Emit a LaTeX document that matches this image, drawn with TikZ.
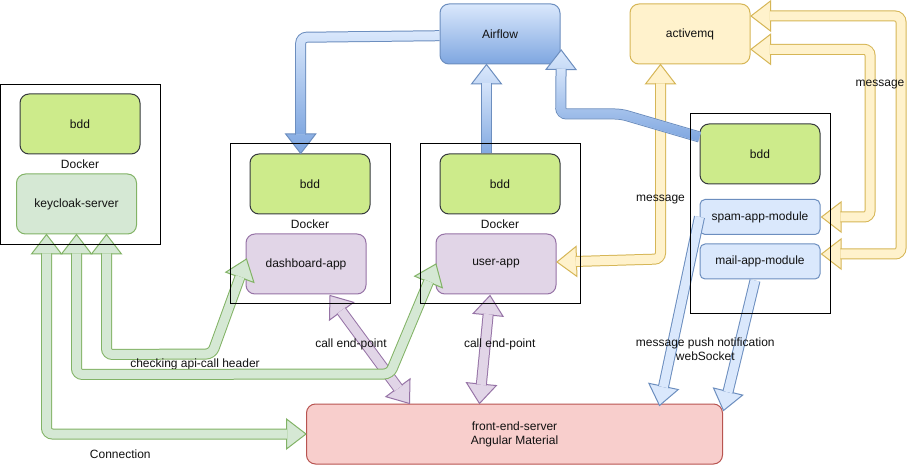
\documentclass[tikz,border=0pt]{standalone}
\usepackage{fontspec}
\setmainfont{Liberation Sans}
\usetikzlibrary{calc,fadings}

\definecolor{gfill}{HTML}{D5E8D4}
\definecolor{gline}{HTML}{82B366}
\definecolor{pfill}{HTML}{E1D5E7}
\definecolor{pline}{HTML}{9673A6}
\definecolor{yfill}{HTML}{FFF2CC}
\definecolor{yline}{HTML}{D6B656}
\definecolor{bfill}{HTML}{DAE8FC}
\definecolor{bline}{HTML}{6C8EBF}
\definecolor{bdark}{HTML}{7EA6E0}
\definecolor{lfill}{HTML}{CDEB8B}
\definecolor{lline}{HTML}{36393D}
\definecolor{rfill}{HTML}{F8CECC}
\definecolor{rline}{HTML}{B85450}
\definecolor{txt}{HTML}{111111}

% fat arrow head: #1 base name, #2 tip, #3 point the arrow comes from, #4 style
\newcommand{\fhead}[4]{%
  \coordinate (#1) at ($(#2)!19.5pt!(#3)$);
  \path[#4] (#2) -- ($(#1)!15pt!90:(#2)$) -- ($(#1)!15pt!-90:(#2)$) -- cycle;
  \coordinate (#1s) at ($(#1)!0.7pt!(#2)$);
}
% gradient fat shaft
\newcommand{\gshaft}[1]{%
  \draw[line width=11pt, draw=bline, rounded corners=6pt] #1;
  \draw[line width=9pt, draw=bfill, rounded corners=6pt] #1;
  \draw[line width=9pt, draw=bdark, rounded corners=6pt, path fading=north] #1;
}

\tikzset{
  lbl/.style={font=\fontsize{12}{14}\selectfont, text=txt, inner sep=0pt, align=center},
  nbox/.style={rectangle, rounded corners=9pt, line width=1pt, minimum width=120pt,
    minimum height=60pt, inner sep=0pt, font=\fontsize{12}{14}\selectfont, text=txt, align=center},
  smallbox/.style={nbox, rounded corners=5pt, minimum height=35pt},
  dockbox/.style={draw=black, line width=1pt, minimum width=160pt, minimum height=160pt, inner sep=0pt},
  gshaftst/.style={draw=gline, double=gfill, double distance=9pt, line width=1pt, rounded corners=6pt},
  ghead/.style={fill=gfill, draw=gline, line width=1pt, line join=miter},
  pshaftst/.style={draw=pline, double=pfill, double distance=9pt, line width=1pt, rounded corners=6pt},
  phead/.style={fill=pfill, draw=pline, line width=1pt, line join=miter},
  yshaftst/.style={draw=yline, double=yfill, double distance=9pt, line width=1pt, rounded corners=6pt},
  yhead/.style={fill=yfill, draw=yline, line width=1pt, line join=miter},
  lshaftst/.style={draw=bline, double=bfill, double distance=9pt, line width=1pt},
  lhead/.style={fill=bfill, draw=bline, line width=1pt, line join=miter},
}

\begin{document}
\begin{tikzpicture}[x=1pt,y=-1pt]
\fill[white] (0,0) rectangle (911,465);
\useasboundingbox (0,0) rectangle (911,465);

% ---------- boxes ----------
\node[nbox, fill=lfill, draw=lline] (bdd1) at (80,124) {bdd};
\node[nbox, fill=gfill, draw=gline] (kc) at (76.5,204) {keycloak-server};
\node[nbox, fill=lfill, draw=lline] (bdd2) at (310,184) {bdd};
\node[nbox, fill=pfill, draw=pline] (dash) at (306,264) {dashboard-app};
\node[nbox, fill=lfill, draw=lline] (bdd3) at (500,184) {bdd};
\node[nbox, fill=pfill, draw=pline] (user) at (496,264) {user-app};
\node[nbox, fill=lfill, draw=lline] (bdd4) at (760,154) {bdd};
\node[smallbox, fill=bfill, draw=bline] (spam) at (760,217) {spam-app-module};
\node[smallbox, fill=bfill, draw=bline] (mail) at (760,261.5) {mail-app-module};
\node[nbox, draw=bline, top color=bfill, bottom color=bdark] (airflow) at (500,34) {Airflow};
\node[nbox, fill=yfill, draw=yline] (amq) at (690,34) {activemq};
\node[nbox, fill=rfill, draw=rline, minimum width=416pt] (fes) at (514.5,434) {front-end-server\\Angular Material};

% ---------- purple: call end-point ----------
\coordinate (p1a) at ($(dash.south)+(24,1)$);
\coordinate (p1b) at ($(fes.north west)+(103.5,0)$);
\fhead{p1ha}{p1a}{p1b}{phead}
\fhead{p1hb}{p1b}{p1a}{phead}
\draw[pshaftst] (p1has) -- (p1hbs);

\coordinate (p2a) at ($(user.south)+(-6,1)$);
\coordinate (p2b) at ($(fes.north west)+(173.5,0)$);
\fhead{p2ha}{p2a}{p2b}{phead}
\fhead{p2hb}{p2b}{p2a}{phead}
\draw[pshaftst] (p2has) -- (p2hbs);

% ---------- green ----------
\coordinate (k1) at ($(kc.south)+(-30,0)$);
\coordinate (k2) at (kc.south);
\coordinate (k3) at ($(kc.south)+(30,0)$);

% Connection
\coordinate (g1c) at (k1 |- fes.west);
\fhead{g1ha}{k1}{g1c}{ghead}
\fhead{g1hb}{fes.west}{g1c}{ghead}
\draw[gshaftst] (g1has) -- (g1c) -- (g1hbs);

% to dashboard-app
\coordinate (g2c1) at ($(k3)+(0,120)$);
\coordinate (g2c2) at (212,354);
\coordinate (dtip) at ($(dash.west)+(1,-5)$);
\fhead{g2ha}{k3}{g2c1}{ghead}
\fhead{g2hb}{dtip}{g2c2}{ghead}
\draw[gshaftst] (g2has) -- (g2c1) -- (g2c2) -- (g2hbs);
\node[lbl] (lchk) at (195,364.5) {checking api-call header};

% to user-app
\coordinate (g3c1) at ($(k2)+(0,140)$);
\coordinate (g3c2) at (390,374);
\coordinate (utip) at ($(user.west)+(0.5,0)$);
\fhead{g3ha}{k2}{g3c1}{ghead}
\fhead{g3hb}{utip}{g3c2}{ghead}
\draw[gshaftst] (g3has) -- (g3c1) -- (g3c2) -- (g3hbs);

% ---------- yellow: activemq ----------
\coordinate (y1a) at ($(amq.south)+(-29.5,0)$);
\coordinate (y1c) at (660.5,259);
\coordinate (y1b) at ($(user.east)+(0.5,-2)$);
\fhead{y1ha}{y1a}{y1c}{yhead}
\fhead{y1hb}{y1b}{y1c}{yhead}
\draw[yshaftst] (y1has) -- (y1c) -- (y1hbs);

\coordinate (y2a) at ($(amq.east)+(0.5,15.3)$);
\coordinate (y2c1) at (870,49.3);
\coordinate (y2c2) at (870,217);
\coordinate (y2b) at ($(spam.east)+(1,0)$);
\fhead{y2ha}{y2a}{y2c1}{yhead}
\fhead{y2hb}{y2b}{y2c2}{yhead}
\draw[yshaftst] (y2has) -- (y2c1) -- (y2c2) -- (y2hbs);

\coordinate (y3a) at ($(amq.east)+(0.5,-18)$);
\coordinate (y3c1) at (901,16);
\coordinate (y3c2) at (901,254);
\coordinate (y3b) at ($(mail.east)+(1,-7.5)$);
\fhead{y3ha}{y3a}{y3c1}{yhead}
\fhead{y3hb}{y3b}{y3c2}{yhead}
\draw[yshaftst] (y3has) -- (y3c1) -- (y3c2) -- (y3hbs);

% ---------- light blue: push notification ----------
\coordinate (b1s) at (spam.west);
\coordinate (b1t) at ($(fes.north west)+(353.5,2)$);
\fhead{b1h}{b1t}{b1s}{lhead}
\draw[lshaftst] (b1s) -- (b1hs);

\coordinate (b2s) at ($(mail.south)+(-5,1)$);
\coordinate (b2t) at ($(fes.north east)+(0.5,7)$);
\fhead{b2h}{b2t}{b2s}{lhead}
\draw[lshaftst] (b2s) -- (b2hs);

% ---------- gradient blue: Airflow ----------
\coordinate (ga0) at ($(airflow.west)+(0,1.7)$);
\coordinate (gac) at (300.7,37.3);
\coordinate (gat) at ($(bdd2.north)+(-9.3,0)$);
\fhead{gah}{gat}{gac}{draw=bline, line width=1pt, line join=miter, top color=bdark!84!bfill, bottom color=bdark}
\gshaft{(ga0) -- (gac) -- (gahs)}

\coordinate (gb0) at ($(bdd3.north)+(-13.5,0)$);
\coordinate (gbt) at ($(airflow.south)+(-13.5,0)$);
\fhead{gbh}{gbt}{gb0}{draw=bline, line width=1pt, line join=miter, top color=bfill, bottom color=bdark!22!bfill}
\gshaft{(gb0) -- (gbhs)}

\coordinate (gc0) at ($(bdd4.west)+(0,-17)$);
\coordinate (gcc1) at (621,114);
\coordinate (gcc2) at (560.7,114);
\coordinate (gct) at ($(airflow.east)+(0.7,16)$);
\fhead{gch}{gct}{gcc2}{draw=bline, line width=1pt, line join=miter, top color=bfill, bottom color=bdark!21!bfill}
\gshaft{(gc0) -- (gcc1) -- (gcc2) -- (gchs)}

% ---------- Docker containers ----------
\node[dockbox] (dock1) at (80.5,164.5) {};
\node[dockbox] (dock2) at (310,224) {};
\node[dockbox] (dock3) at (500,224) {};
\node[dockbox, minimum width=140pt, minimum height=200pt] (dock4) at (760,214) {};
\node[lbl] (dl1) at (80,164) {Docker};
\node[lbl] (dl2) at (310,224) {Docker};
\node[lbl] (dl3) at (500,224) {Docker};

% ---------- labels ----------
\node[lbl] (lconn) at (120.3,454.3) {Connection};
\node[lbl] (lcall1) at (351,344.5) {call end-point};
\node[lbl] (lcall2) at (499.7,344.5) {call end-point};
\node[lbl] (lmsg1) at (660.5,200) {message};
\node[lbl] (lmsg2) at (880,85) {message};
\node[lbl] (lpush) at (705.3,349.5) {message push notification\\webSocket};
\end{tikzpicture}
\end{document}
